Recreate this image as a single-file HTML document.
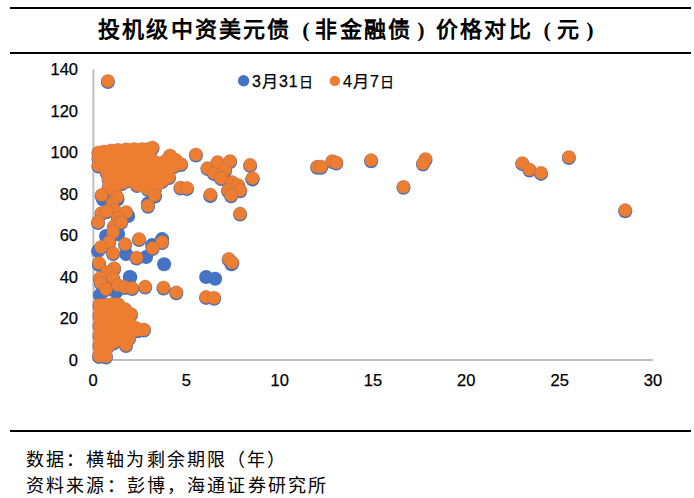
<!DOCTYPE html>
<html lang="zh-CN"><head><meta charset="utf-8">
<style>
html,body{margin:0;padding:0;background:#fff;}
body{width:694px;height:498px;position:relative;overflow:hidden;font-family:"Liberation Sans",sans-serif;}
.rule{position:absolute;left:10px;width:681px;height:2px;background:#000;}
.title{position:absolute;left:97.1px;top:14.5px;white-space:nowrap;font-family:"Liberation Serif",serif;font-weight:bold;font-size:22px;line-height:30px;color:#000;}
.title span{display:inline-block;width:24.15px;text-align:center;}
.title span.b{font-size:22px;position:relative;}
.title span.l{left:3.5px;}
.title span.r{left:-2px;}
.foot{position:absolute;left:25px;font-family:"Liberation Serif",serif;font-size:18px;line-height:24px;color:#000;white-space:nowrap;}
svg{position:absolute;left:0;top:0;}
</style></head><body>
<div class="rule" style="top:7px"></div>
<div class="title"><span>投</span><span>机</span><span>级</span><span>中</span><span>资</span><span>美</span><span>元</span><span>债</span><span class="b l">(</span><span>非</span><span>金</span><span>融</span><span>债</span><span class="b r">)</span><span>价</span><span>格</span><span>对</span><span>比</span><span class="b l">(</span><span>元</span><span class="b r">)</span></div>
<div class="rule" style="top:52px"></div>
<svg width="694" height="430" viewBox="0 0 694 430">
<g style="font-family:'Liberation Sans',sans-serif" font-size="16.5" fill="#000" stroke="#000" stroke-width="0.25"><text x="78" y="365.5" text-anchor="end">0</text><text x="78" y="324.0" text-anchor="end">20</text><text x="78" y="282.5" text-anchor="end">40</text><text x="78" y="241.0" text-anchor="end">60</text><text x="78" y="199.5" text-anchor="end">80</text><text x="78" y="158.0" text-anchor="end">100</text><text x="78" y="116.5" text-anchor="end">120</text><text x="78" y="75.0" text-anchor="end">140</text><text x="93.0" y="386" text-anchor="middle">0</text><text x="186.3" y="386" text-anchor="middle">5</text><text x="279.7" y="386" text-anchor="middle">10</text><text x="373.0" y="386" text-anchor="middle">15</text><text x="466.3" y="386" text-anchor="middle">20</text><text x="559.7" y="386" text-anchor="middle">25</text><text x="653.0" y="386" text-anchor="middle">30</text></g>
<rect x="92.4" y="69.5" width="2" height="291" fill="#BFBFBF"/>
<rect x="93" y="359" width="560" height="2" fill="#BFBFBF"/>
<g><circle cx="107.9" cy="82.0" r="7.0" fill="#4472C4"/>
<circle cx="180.5" cy="188.5" r="7.0" fill="#4472C4"/>
<circle cx="187.0" cy="189.0" r="7.0" fill="#4472C4"/>
<circle cx="101.6" cy="196.0" r="7.0" fill="#4472C4"/>
<circle cx="117.1" cy="198.0" r="7.0" fill="#4472C4"/>
<circle cx="112.5" cy="204.0" r="7.0" fill="#4472C4"/>
<circle cx="114.5" cy="211.0" r="7.0" fill="#4472C4"/>
<circle cx="101.5" cy="214.0" r="7.0" fill="#4472C4"/>
<circle cx="107.1" cy="212.0" r="7.0" fill="#4472C4"/>
<circle cx="126.2" cy="213.0" r="7.0" fill="#4472C4"/>
<circle cx="98.0" cy="223.0" r="7.0" fill="#4472C4"/>
<circle cx="118.1" cy="219.1" r="7.0" fill="#4472C4"/>
<circle cx="114.1" cy="227.1" r="7.0" fill="#4472C4"/>
<circle cx="121.1" cy="223.1" r="7.0" fill="#4472C4"/>
<circle cx="148.0" cy="206.7" r="7.0" fill="#4472C4"/>
<circle cx="154.6" cy="196.1" r="7.0" fill="#4472C4"/>
<circle cx="113.1" cy="233.0" r="7.0" fill="#4472C4"/>
<circle cx="109.1" cy="243.0" r="7.0" fill="#4472C4"/>
<circle cx="101.0" cy="248.0" r="7.0" fill="#4472C4"/>
<circle cx="125.1" cy="245.0" r="7.0" fill="#4472C4"/>
<circle cx="113.1" cy="254.1" r="7.0" fill="#4472C4"/>
<circle cx="139.0" cy="240.0" r="7.0" fill="#4472C4"/>
<circle cx="136.6" cy="258.6" r="7.0" fill="#4472C4"/>
<circle cx="99.0" cy="264.1" r="7.0" fill="#4472C4"/>
<circle cx="114.1" cy="269.2" r="7.0" fill="#4472C4"/>
<circle cx="107.1" cy="273.2" r="7.0" fill="#4472C4"/>
<circle cx="100.0" cy="279.2" r="7.0" fill="#4472C4"/>
<circle cx="113.1" cy="279.2" r="7.0" fill="#4472C4"/>
<circle cx="162.1" cy="243.1" r="7.0" fill="#4472C4"/>
<circle cx="152.6" cy="249.1" r="7.0" fill="#4472C4"/>
<circle cx="101.0" cy="284.0" r="7.0" fill="#4472C4"/>
<circle cx="106.1" cy="290.1" r="7.0" fill="#4472C4"/>
<circle cx="118.1" cy="286.1" r="7.0" fill="#4472C4"/>
<circle cx="125.0" cy="288.0" r="7.0" fill="#4472C4"/>
<circle cx="132.2" cy="289.1" r="7.0" fill="#4472C4"/>
<circle cx="145.2" cy="287.6" r="7.0" fill="#4472C4"/>
<circle cx="163.5" cy="288.5" r="7.0" fill="#4472C4"/>
<circle cx="176.3" cy="293.3" r="7.0" fill="#4472C4"/>
<circle cx="195.9" cy="155.5" r="7.0" fill="#4472C4"/>
<circle cx="250.1" cy="165.9" r="7.0" fill="#4472C4"/>
<circle cx="252.5" cy="179.2" r="7.0" fill="#4472C4"/>
<circle cx="210.4" cy="195.6" r="7.0" fill="#4472C4"/>
<circle cx="240.1" cy="214.6" r="7.0" fill="#4472C4"/>
<circle cx="207.5" cy="169.1" r="7.0" fill="#4472C4"/>
<circle cx="214.0" cy="174.0" r="7.0" fill="#4472C4"/>
<circle cx="217.6" cy="163.0" r="7.0" fill="#4472C4"/>
<circle cx="230.1" cy="162.0" r="7.0" fill="#4472C4"/>
<circle cx="225.1" cy="171.1" r="7.0" fill="#4472C4"/>
<circle cx="221.1" cy="179.1" r="7.0" fill="#4472C4"/>
<circle cx="232.1" cy="183.1" r="7.0" fill="#4472C4"/>
<circle cx="238.2" cy="186.1" r="7.0" fill="#4472C4"/>
<circle cx="240.2" cy="191.2" r="7.0" fill="#4472C4"/>
<circle cx="228.1" cy="191.2" r="7.0" fill="#4472C4"/>
<circle cx="231.1" cy="196.2" r="7.0" fill="#4472C4"/>
<circle cx="317.2" cy="167.7" r="7.0" fill="#4472C4"/>
<circle cx="321.2" cy="167.7" r="7.0" fill="#4472C4"/>
<circle cx="332.3" cy="162.0" r="7.0" fill="#4472C4"/>
<circle cx="336.3" cy="163.5" r="7.0" fill="#4472C4"/>
<circle cx="371.1" cy="161.2" r="7.0" fill="#4472C4"/>
<circle cx="403.5" cy="187.8" r="7.0" fill="#4472C4"/>
<circle cx="425.5" cy="160.0" r="7.0" fill="#4472C4"/>
<circle cx="423.0" cy="164.5" r="7.0" fill="#4472C4"/>
<circle cx="568.9" cy="158.0" r="7.0" fill="#4472C4"/>
<circle cx="522.3" cy="164.1" r="7.0" fill="#4472C4"/>
<circle cx="529.5" cy="170.5" r="7.0" fill="#4472C4"/>
<circle cx="541.0" cy="173.9" r="7.0" fill="#4472C4"/>
<circle cx="625.2" cy="211.2" r="7.0" fill="#4472C4"/>
<circle cx="206.1" cy="297.9" r="7.0" fill="#4472C4"/>
<circle cx="214.2" cy="298.8" r="7.0" fill="#4472C4"/>
<circle cx="228.7" cy="259.9" r="7.0" fill="#4472C4"/>
<circle cx="232.3" cy="263.5" r="7.0" fill="#4472C4"/>
<circle cx="98.5" cy="153.5" r="7.0" fill="#4472C4"/>
<circle cx="104.0" cy="152.5" r="7.0" fill="#4472C4"/>
<circle cx="111.0" cy="151.5" r="7.0" fill="#4472C4"/>
<circle cx="118.0" cy="150.8" r="7.0" fill="#4472C4"/>
<circle cx="126.0" cy="150.3" r="7.0" fill="#4472C4"/>
<circle cx="134.0" cy="150.0" r="7.0" fill="#4472C4"/>
<circle cx="142.0" cy="150.0" r="7.0" fill="#4472C4"/>
<circle cx="148.0" cy="150.0" r="7.0" fill="#4472C4"/>
<circle cx="152.5" cy="148.5" r="7.0" fill="#4472C4"/>
<circle cx="149.5" cy="154.8" r="7.0" fill="#4472C4"/>
<circle cx="146.5" cy="161.0" r="7.0" fill="#4472C4"/>
<circle cx="154.0" cy="162.5" r="7.0" fill="#4472C4"/>
<circle cx="161.5" cy="164.0" r="7.0" fill="#4472C4"/>
<circle cx="170.1" cy="156.5" r="7.0" fill="#4472C4"/>
<circle cx="175.6" cy="160.8" r="7.0" fill="#4472C4"/>
<circle cx="181.0" cy="165.0" r="7.0" fill="#4472C4"/>
<circle cx="174.0" cy="167.0" r="7.0" fill="#4472C4"/>
<circle cx="167.0" cy="169.0" r="7.0" fill="#4472C4"/>
<circle cx="169.0" cy="178.0" r="7.0" fill="#4472C4"/>
<circle cx="162.0" cy="182.0" r="7.0" fill="#4472C4"/>
<circle cx="155.0" cy="189.0" r="7.0" fill="#4472C4"/>
<circle cx="148.0" cy="190.0" r="7.0" fill="#4472C4"/>
<circle cx="137.0" cy="186.0" r="7.0" fill="#4472C4"/>
<circle cx="129.0" cy="181.0" r="7.0" fill="#4472C4"/>
<circle cx="122.0" cy="184.0" r="7.0" fill="#4472C4"/>
<circle cx="115.0" cy="187.0" r="7.0" fill="#4472C4"/>
<circle cx="115.0" cy="194.0" r="7.0" fill="#4472C4"/>
<circle cx="108.6" cy="188.0" r="7.0" fill="#4472C4"/>
<circle cx="108.6" cy="180.0" r="7.0" fill="#4472C4"/>
<circle cx="106.8" cy="173.2" r="7.0" fill="#4472C4"/>
<circle cx="105.0" cy="166.5" r="7.0" fill="#4472C4"/>
<circle cx="98.5" cy="166.5" r="7.0" fill="#4472C4"/>
<circle cx="98.5" cy="159.0" r="7.0" fill="#4472C4"/>
<circle cx="99.5" cy="306.0" r="7.0" fill="#4472C4"/>
<circle cx="106.0" cy="305.5" r="7.0" fill="#4472C4"/>
<circle cx="112.0" cy="305.0" r="7.0" fill="#4472C4"/>
<circle cx="118.0" cy="305.0" r="7.0" fill="#4472C4"/>
<circle cx="125.0" cy="310.0" r="7.0" fill="#4472C4"/>
<circle cx="131.0" cy="315.0" r="7.0" fill="#4472C4"/>
<circle cx="128.0" cy="322.0" r="7.0" fill="#4472C4"/>
<circle cx="136.0" cy="329.0" r="7.0" fill="#4472C4"/>
<circle cx="144.0" cy="330.5" r="7.0" fill="#4472C4"/>
<circle cx="138.0" cy="331.2" r="7.0" fill="#4472C4"/>
<circle cx="132.0" cy="332.0" r="7.0" fill="#4472C4"/>
<circle cx="129.0" cy="339.0" r="7.0" fill="#4472C4"/>
<circle cx="126.0" cy="346.0" r="7.0" fill="#4472C4"/>
<circle cx="120.0" cy="339.0" r="7.0" fill="#4472C4"/>
<circle cx="113.5" cy="343.5" r="7.0" fill="#4472C4"/>
<circle cx="107.0" cy="348.0" r="7.0" fill="#4472C4"/>
<circle cx="106.0" cy="357.5" r="7.0" fill="#4472C4"/>
<circle cx="99.0" cy="357.0" r="7.0" fill="#4472C4"/>
<circle cx="99.5" cy="346.0" r="7.0" fill="#4472C4"/>
<circle cx="99.5" cy="336.0" r="7.0" fill="#4472C4"/>
<circle cx="99.5" cy="326.0" r="7.0" fill="#4472C4"/>
<circle cx="99.5" cy="316.0" r="7.0" fill="#4472C4"/>
<circle cx="103.0" cy="199.5" r="7" fill="#4472C4"/>
<circle cx="117.5" cy="199.5" r="7" fill="#4472C4"/>
<circle cx="128.2" cy="216.0" r="7" fill="#4472C4"/>
<circle cx="148.0" cy="203.5" r="7" fill="#4472C4"/>
<circle cx="155.0" cy="196.5" r="7" fill="#4472C4"/>
<circle cx="117.1" cy="234.2" r="7" fill="#4472C4"/>
<circle cx="106.0" cy="236.0" r="7" fill="#4472C4"/>
<circle cx="118.1" cy="234.0" r="7" fill="#4472C4"/>
<circle cx="126.2" cy="254.1" r="7" fill="#4472C4"/>
<circle cx="98.0" cy="251.0" r="7" fill="#4472C4"/>
<circle cx="99.0" cy="265.0" r="7" fill="#4472C4"/>
<circle cx="130.2" cy="277.2" r="7" fill="#4472C4"/>
<circle cx="162.1" cy="239.1" r="7" fill="#4472C4"/>
<circle cx="152.1" cy="245.1" r="7" fill="#4472C4"/>
<circle cx="146.1" cy="257.1" r="7" fill="#4472C4"/>
<circle cx="164.1" cy="264.2" r="7" fill="#4472C4"/>
<circle cx="100.0" cy="295.1" r="7" fill="#4472C4"/>
<circle cx="116.1" cy="292.1" r="7" fill="#4472C4"/>
<circle cx="129.7" cy="277.0" r="7" fill="#4472C4"/>
<circle cx="252.5" cy="179.4" r="7" fill="#4472C4"/>
<circle cx="210.4" cy="196.0" r="7" fill="#4472C4"/>
<circle cx="206.1" cy="277.0" r="7" fill="#4472C4"/>
<circle cx="215.2" cy="278.8" r="7" fill="#4472C4"/>
<circle cx="231.4" cy="264.3" r="7" fill="#4472C4"/></g>
<g><circle cx="98.5" cy="152.5" r="6.6" fill="#ED7D31" stroke="#8C6466" stroke-opacity="0.4" stroke-width="0.8"/>
<circle cx="104.0" cy="151.5" r="6.6" fill="#ED7D31" stroke="#8C6466" stroke-opacity="0.4" stroke-width="0.8"/>
<circle cx="111.0" cy="150.5" r="6.6" fill="#ED7D31" stroke="#8C6466" stroke-opacity="0.4" stroke-width="0.8"/>
<circle cx="118.0" cy="149.8" r="6.6" fill="#ED7D31" stroke="#8C6466" stroke-opacity="0.4" stroke-width="0.8"/>
<circle cx="126.0" cy="149.3" r="6.6" fill="#ED7D31" stroke="#8C6466" stroke-opacity="0.4" stroke-width="0.8"/>
<circle cx="134.0" cy="149.0" r="6.6" fill="#ED7D31" stroke="#8C6466" stroke-opacity="0.4" stroke-width="0.8"/>
<circle cx="142.0" cy="149.0" r="6.6" fill="#ED7D31" stroke="#8C6466" stroke-opacity="0.4" stroke-width="0.8"/>
<circle cx="148.0" cy="149.0" r="6.6" fill="#ED7D31" stroke="#8C6466" stroke-opacity="0.4" stroke-width="0.8"/>
<circle cx="152.5" cy="147.5" r="6.6" fill="#ED7D31" stroke="#8C6466" stroke-opacity="0.4" stroke-width="0.8"/>
<circle cx="149.5" cy="153.8" r="6.6" fill="#ED7D31" stroke="#8C6466" stroke-opacity="0.4" stroke-width="0.8"/>
<circle cx="146.5" cy="160.0" r="6.6" fill="#ED7D31" stroke="#8C6466" stroke-opacity="0.4" stroke-width="0.8"/>
<circle cx="154.0" cy="161.5" r="6.6" fill="#ED7D31" stroke="#8C6466" stroke-opacity="0.4" stroke-width="0.8"/>
<circle cx="161.5" cy="163.0" r="6.6" fill="#ED7D31" stroke="#8C6466" stroke-opacity="0.4" stroke-width="0.8"/>
<circle cx="170.1" cy="155.5" r="6.6" fill="#ED7D31" stroke="#8C6466" stroke-opacity="0.4" stroke-width="0.8"/>
<circle cx="175.6" cy="159.8" r="6.6" fill="#ED7D31" stroke="#8C6466" stroke-opacity="0.4" stroke-width="0.8"/>
<circle cx="181.0" cy="164.0" r="6.6" fill="#ED7D31" stroke="#8C6466" stroke-opacity="0.4" stroke-width="0.8"/>
<circle cx="174.0" cy="166.0" r="6.6" fill="#ED7D31" stroke="#8C6466" stroke-opacity="0.4" stroke-width="0.8"/>
<circle cx="167.0" cy="168.0" r="6.6" fill="#ED7D31" stroke="#8C6466" stroke-opacity="0.4" stroke-width="0.8"/>
<circle cx="169.0" cy="177.0" r="6.6" fill="#ED7D31" stroke="#8C6466" stroke-opacity="0.4" stroke-width="0.8"/>
<circle cx="162.0" cy="181.0" r="6.6" fill="#ED7D31" stroke="#8C6466" stroke-opacity="0.4" stroke-width="0.8"/>
<circle cx="155.0" cy="188.0" r="6.6" fill="#ED7D31" stroke="#8C6466" stroke-opacity="0.4" stroke-width="0.8"/>
<circle cx="148.0" cy="189.0" r="6.6" fill="#ED7D31" stroke="#8C6466" stroke-opacity="0.4" stroke-width="0.8"/>
<circle cx="137.0" cy="185.0" r="6.6" fill="#ED7D31" stroke="#8C6466" stroke-opacity="0.4" stroke-width="0.8"/>
<circle cx="129.0" cy="180.0" r="6.6" fill="#ED7D31" stroke="#8C6466" stroke-opacity="0.4" stroke-width="0.8"/>
<circle cx="122.0" cy="183.0" r="6.6" fill="#ED7D31" stroke="#8C6466" stroke-opacity="0.4" stroke-width="0.8"/>
<circle cx="115.0" cy="186.0" r="6.6" fill="#ED7D31" stroke="#8C6466" stroke-opacity="0.4" stroke-width="0.8"/>
<circle cx="115.0" cy="193.0" r="6.6" fill="#ED7D31" stroke="#8C6466" stroke-opacity="0.4" stroke-width="0.8"/>
<circle cx="108.6" cy="187.0" r="6.6" fill="#ED7D31" stroke="#8C6466" stroke-opacity="0.4" stroke-width="0.8"/>
<circle cx="108.6" cy="179.0" r="6.6" fill="#ED7D31" stroke="#8C6466" stroke-opacity="0.4" stroke-width="0.8"/>
<circle cx="106.8" cy="172.2" r="6.6" fill="#ED7D31" stroke="#8C6466" stroke-opacity="0.4" stroke-width="0.8"/>
<circle cx="105.0" cy="165.5" r="6.6" fill="#ED7D31" stroke="#8C6466" stroke-opacity="0.4" stroke-width="0.8"/>
<circle cx="98.5" cy="165.5" r="6.6" fill="#ED7D31" stroke="#8C6466" stroke-opacity="0.4" stroke-width="0.8"/>
<circle cx="98.5" cy="158.0" r="6.6" fill="#ED7D31" stroke="#8C6466" stroke-opacity="0.4" stroke-width="0.8"/>
<circle cx="99.5" cy="305.0" r="6.6" fill="#ED7D31" stroke="#8C6466" stroke-opacity="0.4" stroke-width="0.8"/>
<circle cx="106.0" cy="304.5" r="6.6" fill="#ED7D31" stroke="#8C6466" stroke-opacity="0.4" stroke-width="0.8"/>
<circle cx="112.0" cy="304.0" r="6.6" fill="#ED7D31" stroke="#8C6466" stroke-opacity="0.4" stroke-width="0.8"/>
<circle cx="118.0" cy="304.0" r="6.6" fill="#ED7D31" stroke="#8C6466" stroke-opacity="0.4" stroke-width="0.8"/>
<circle cx="125.0" cy="309.0" r="6.6" fill="#ED7D31" stroke="#8C6466" stroke-opacity="0.4" stroke-width="0.8"/>
<circle cx="131.0" cy="314.0" r="6.6" fill="#ED7D31" stroke="#8C6466" stroke-opacity="0.4" stroke-width="0.8"/>
<circle cx="128.0" cy="321.0" r="6.6" fill="#ED7D31" stroke="#8C6466" stroke-opacity="0.4" stroke-width="0.8"/>
<circle cx="136.0" cy="328.0" r="6.6" fill="#ED7D31" stroke="#8C6466" stroke-opacity="0.4" stroke-width="0.8"/>
<circle cx="144.0" cy="329.5" r="6.6" fill="#ED7D31" stroke="#8C6466" stroke-opacity="0.4" stroke-width="0.8"/>
<circle cx="138.0" cy="330.2" r="6.6" fill="#ED7D31" stroke="#8C6466" stroke-opacity="0.4" stroke-width="0.8"/>
<circle cx="132.0" cy="331.0" r="6.6" fill="#ED7D31" stroke="#8C6466" stroke-opacity="0.4" stroke-width="0.8"/>
<circle cx="129.0" cy="338.0" r="6.6" fill="#ED7D31" stroke="#8C6466" stroke-opacity="0.4" stroke-width="0.8"/>
<circle cx="126.0" cy="345.0" r="6.6" fill="#ED7D31" stroke="#8C6466" stroke-opacity="0.4" stroke-width="0.8"/>
<circle cx="120.0" cy="338.0" r="6.6" fill="#ED7D31" stroke="#8C6466" stroke-opacity="0.4" stroke-width="0.8"/>
<circle cx="113.5" cy="342.5" r="6.6" fill="#ED7D31" stroke="#8C6466" stroke-opacity="0.4" stroke-width="0.8"/>
<circle cx="107.0" cy="347.0" r="6.6" fill="#ED7D31" stroke="#8C6466" stroke-opacity="0.4" stroke-width="0.8"/>
<circle cx="106.0" cy="356.5" r="6.6" fill="#ED7D31" stroke="#8C6466" stroke-opacity="0.4" stroke-width="0.8"/>
<circle cx="99.0" cy="356.0" r="6.6" fill="#ED7D31" stroke="#8C6466" stroke-opacity="0.4" stroke-width="0.8"/>
<circle cx="99.5" cy="345.0" r="6.6" fill="#ED7D31" stroke="#8C6466" stroke-opacity="0.4" stroke-width="0.8"/>
<circle cx="99.5" cy="335.0" r="6.6" fill="#ED7D31" stroke="#8C6466" stroke-opacity="0.4" stroke-width="0.8"/>
<circle cx="99.5" cy="325.0" r="6.6" fill="#ED7D31" stroke="#8C6466" stroke-opacity="0.4" stroke-width="0.8"/>
<circle cx="99.5" cy="315.0" r="6.6" fill="#ED7D31" stroke="#8C6466" stroke-opacity="0.4" stroke-width="0.8"/>
<polygon points="98.5,152.5 104.0,151.5 111.0,150.5 118.0,149.8 126.0,149.3 134.0,149.0 142.0,149.0 148.0,149.0 152.5,147.5 146.5,160.0 161.5,163.0 170.1,155.5 181.0,164.0 167.0,168.0 169.0,177.0 162.0,181.0 155.0,188.0 148.0,189.0 137.0,185.0 129.0,180.0 115.0,186.0 115.0,193.0 108.6,187.0 108.6,179.0 105.0,165.5 98.5,165.5 98.5,158.0" fill="#ED7D31" stroke="#ED7D31" stroke-width="11" stroke-linejoin="round"/>
<polygon points="99.5,305.0 106.0,304.5 112.0,304.0 118.0,304.0 125.0,309.0 131.0,314.0 128.0,321.0 136.0,328.0 144.0,329.5 132.0,331.0 126.0,345.0 120.0,338.0 107.0,347.0 106.0,356.5 99.0,356.0 99.5,345.0 99.5,325.0" fill="#ED7D31" stroke="#ED7D31" stroke-width="11" stroke-linejoin="round"/>
<circle cx="107.9" cy="81.0" r="6.6" fill="#ED7D31" stroke="#8C6466" stroke-opacity="0.4" stroke-width="0.8"/>
<circle cx="180.5" cy="187.5" r="6.6" fill="#ED7D31" stroke="#8C6466" stroke-opacity="0.4" stroke-width="0.8"/>
<circle cx="187.0" cy="188.0" r="6.6" fill="#ED7D31" stroke="#8C6466" stroke-opacity="0.4" stroke-width="0.8"/>
<circle cx="101.6" cy="195.0" r="6.6" fill="#ED7D31" stroke="#8C6466" stroke-opacity="0.4" stroke-width="0.8"/>
<circle cx="117.1" cy="197.0" r="6.6" fill="#ED7D31" stroke="#8C6466" stroke-opacity="0.4" stroke-width="0.8"/>
<circle cx="112.5" cy="203.0" r="6.6" fill="#ED7D31" stroke="#8C6466" stroke-opacity="0.4" stroke-width="0.8"/>
<circle cx="114.5" cy="210.0" r="6.6" fill="#ED7D31" stroke="#8C6466" stroke-opacity="0.4" stroke-width="0.8"/>
<circle cx="101.5" cy="213.0" r="6.6" fill="#ED7D31" stroke="#8C6466" stroke-opacity="0.4" stroke-width="0.8"/>
<circle cx="107.1" cy="211.0" r="6.6" fill="#ED7D31" stroke="#8C6466" stroke-opacity="0.4" stroke-width="0.8"/>
<circle cx="126.2" cy="212.0" r="6.6" fill="#ED7D31" stroke="#8C6466" stroke-opacity="0.4" stroke-width="0.8"/>
<circle cx="98.0" cy="222.0" r="6.6" fill="#ED7D31" stroke="#8C6466" stroke-opacity="0.4" stroke-width="0.8"/>
<circle cx="118.1" cy="218.1" r="6.6" fill="#ED7D31" stroke="#8C6466" stroke-opacity="0.4" stroke-width="0.8"/>
<circle cx="114.1" cy="226.1" r="6.6" fill="#ED7D31" stroke="#8C6466" stroke-opacity="0.4" stroke-width="0.8"/>
<circle cx="121.1" cy="222.1" r="6.6" fill="#ED7D31" stroke="#8C6466" stroke-opacity="0.4" stroke-width="0.8"/>
<circle cx="148.0" cy="205.7" r="6.6" fill="#ED7D31" stroke="#8C6466" stroke-opacity="0.4" stroke-width="0.8"/>
<circle cx="154.6" cy="195.1" r="6.6" fill="#ED7D31" stroke="#8C6466" stroke-opacity="0.4" stroke-width="0.8"/>
<circle cx="113.1" cy="232.0" r="6.6" fill="#ED7D31" stroke="#8C6466" stroke-opacity="0.4" stroke-width="0.8"/>
<circle cx="109.1" cy="242.0" r="6.6" fill="#ED7D31" stroke="#8C6466" stroke-opacity="0.4" stroke-width="0.8"/>
<circle cx="101.0" cy="247.0" r="6.6" fill="#ED7D31" stroke="#8C6466" stroke-opacity="0.4" stroke-width="0.8"/>
<circle cx="125.1" cy="244.0" r="6.6" fill="#ED7D31" stroke="#8C6466" stroke-opacity="0.4" stroke-width="0.8"/>
<circle cx="113.1" cy="253.1" r="6.6" fill="#ED7D31" stroke="#8C6466" stroke-opacity="0.4" stroke-width="0.8"/>
<circle cx="139.0" cy="239.0" r="6.6" fill="#ED7D31" stroke="#8C6466" stroke-opacity="0.4" stroke-width="0.8"/>
<circle cx="136.6" cy="257.6" r="6.6" fill="#ED7D31" stroke="#8C6466" stroke-opacity="0.4" stroke-width="0.8"/>
<circle cx="99.0" cy="263.1" r="6.6" fill="#ED7D31" stroke="#8C6466" stroke-opacity="0.4" stroke-width="0.8"/>
<circle cx="114.1" cy="268.2" r="6.6" fill="#ED7D31" stroke="#8C6466" stroke-opacity="0.4" stroke-width="0.8"/>
<circle cx="107.1" cy="272.2" r="6.6" fill="#ED7D31" stroke="#8C6466" stroke-opacity="0.4" stroke-width="0.8"/>
<circle cx="100.0" cy="278.2" r="6.6" fill="#ED7D31" stroke="#8C6466" stroke-opacity="0.4" stroke-width="0.8"/>
<circle cx="113.1" cy="278.2" r="6.6" fill="#ED7D31" stroke="#8C6466" stroke-opacity="0.4" stroke-width="0.8"/>
<circle cx="162.1" cy="242.1" r="6.6" fill="#ED7D31" stroke="#8C6466" stroke-opacity="0.4" stroke-width="0.8"/>
<circle cx="152.6" cy="248.1" r="6.6" fill="#ED7D31" stroke="#8C6466" stroke-opacity="0.4" stroke-width="0.8"/>
<circle cx="101.0" cy="283.0" r="6.6" fill="#ED7D31" stroke="#8C6466" stroke-opacity="0.4" stroke-width="0.8"/>
<circle cx="106.1" cy="289.1" r="6.6" fill="#ED7D31" stroke="#8C6466" stroke-opacity="0.4" stroke-width="0.8"/>
<circle cx="118.1" cy="285.1" r="6.6" fill="#ED7D31" stroke="#8C6466" stroke-opacity="0.4" stroke-width="0.8"/>
<circle cx="125.0" cy="287.0" r="6.6" fill="#ED7D31" stroke="#8C6466" stroke-opacity="0.4" stroke-width="0.8"/>
<circle cx="132.2" cy="288.1" r="6.6" fill="#ED7D31" stroke="#8C6466" stroke-opacity="0.4" stroke-width="0.8"/>
<circle cx="145.2" cy="286.6" r="6.6" fill="#ED7D31" stroke="#8C6466" stroke-opacity="0.4" stroke-width="0.8"/>
<circle cx="163.5" cy="287.5" r="6.6" fill="#ED7D31" stroke="#8C6466" stroke-opacity="0.4" stroke-width="0.8"/>
<circle cx="176.3" cy="292.3" r="6.6" fill="#ED7D31" stroke="#8C6466" stroke-opacity="0.4" stroke-width="0.8"/>
<circle cx="195.9" cy="154.5" r="6.6" fill="#ED7D31" stroke="#8C6466" stroke-opacity="0.4" stroke-width="0.8"/>
<circle cx="250.1" cy="164.9" r="6.6" fill="#ED7D31" stroke="#8C6466" stroke-opacity="0.4" stroke-width="0.8"/>
<circle cx="252.5" cy="178.2" r="6.6" fill="#ED7D31" stroke="#8C6466" stroke-opacity="0.4" stroke-width="0.8"/>
<circle cx="210.4" cy="194.6" r="6.6" fill="#ED7D31" stroke="#8C6466" stroke-opacity="0.4" stroke-width="0.8"/>
<circle cx="240.1" cy="213.6" r="6.6" fill="#ED7D31" stroke="#8C6466" stroke-opacity="0.4" stroke-width="0.8"/>
<circle cx="207.5" cy="168.1" r="6.6" fill="#ED7D31" stroke="#8C6466" stroke-opacity="0.4" stroke-width="0.8"/>
<circle cx="214.0" cy="173.0" r="6.6" fill="#ED7D31" stroke="#8C6466" stroke-opacity="0.4" stroke-width="0.8"/>
<circle cx="217.6" cy="162.0" r="6.6" fill="#ED7D31" stroke="#8C6466" stroke-opacity="0.4" stroke-width="0.8"/>
<circle cx="230.1" cy="161.0" r="6.6" fill="#ED7D31" stroke="#8C6466" stroke-opacity="0.4" stroke-width="0.8"/>
<circle cx="225.1" cy="170.1" r="6.6" fill="#ED7D31" stroke="#8C6466" stroke-opacity="0.4" stroke-width="0.8"/>
<circle cx="221.1" cy="178.1" r="6.6" fill="#ED7D31" stroke="#8C6466" stroke-opacity="0.4" stroke-width="0.8"/>
<circle cx="232.1" cy="182.1" r="6.6" fill="#ED7D31" stroke="#8C6466" stroke-opacity="0.4" stroke-width="0.8"/>
<circle cx="238.2" cy="185.1" r="6.6" fill="#ED7D31" stroke="#8C6466" stroke-opacity="0.4" stroke-width="0.8"/>
<circle cx="240.2" cy="190.2" r="6.6" fill="#ED7D31" stroke="#8C6466" stroke-opacity="0.4" stroke-width="0.8"/>
<circle cx="228.1" cy="190.2" r="6.6" fill="#ED7D31" stroke="#8C6466" stroke-opacity="0.4" stroke-width="0.8"/>
<circle cx="231.1" cy="195.2" r="6.6" fill="#ED7D31" stroke="#8C6466" stroke-opacity="0.4" stroke-width="0.8"/>
<circle cx="317.2" cy="166.7" r="6.6" fill="#ED7D31" stroke="#8C6466" stroke-opacity="0.4" stroke-width="0.8"/>
<circle cx="321.2" cy="166.7" r="6.6" fill="#ED7D31" stroke="#8C6466" stroke-opacity="0.4" stroke-width="0.8"/>
<circle cx="332.3" cy="161.0" r="6.6" fill="#ED7D31" stroke="#8C6466" stroke-opacity="0.4" stroke-width="0.8"/>
<circle cx="336.3" cy="162.5" r="6.6" fill="#ED7D31" stroke="#8C6466" stroke-opacity="0.4" stroke-width="0.8"/>
<circle cx="371.1" cy="160.2" r="6.6" fill="#ED7D31" stroke="#8C6466" stroke-opacity="0.4" stroke-width="0.8"/>
<circle cx="403.5" cy="186.8" r="6.6" fill="#ED7D31" stroke="#8C6466" stroke-opacity="0.4" stroke-width="0.8"/>
<circle cx="425.5" cy="159.0" r="6.6" fill="#ED7D31" stroke="#8C6466" stroke-opacity="0.4" stroke-width="0.8"/>
<circle cx="423.0" cy="163.5" r="6.6" fill="#ED7D31" stroke="#8C6466" stroke-opacity="0.4" stroke-width="0.8"/>
<circle cx="568.9" cy="157.0" r="6.6" fill="#ED7D31" stroke="#8C6466" stroke-opacity="0.4" stroke-width="0.8"/>
<circle cx="522.3" cy="163.1" r="6.6" fill="#ED7D31" stroke="#8C6466" stroke-opacity="0.4" stroke-width="0.8"/>
<circle cx="529.5" cy="169.5" r="6.6" fill="#ED7D31" stroke="#8C6466" stroke-opacity="0.4" stroke-width="0.8"/>
<circle cx="541.0" cy="172.9" r="6.6" fill="#ED7D31" stroke="#8C6466" stroke-opacity="0.4" stroke-width="0.8"/>
<circle cx="625.2" cy="210.2" r="6.6" fill="#ED7D31" stroke="#8C6466" stroke-opacity="0.4" stroke-width="0.8"/>
<circle cx="206.1" cy="296.9" r="6.6" fill="#ED7D31" stroke="#8C6466" stroke-opacity="0.4" stroke-width="0.8"/>
<circle cx="214.2" cy="297.8" r="6.6" fill="#ED7D31" stroke="#8C6466" stroke-opacity="0.4" stroke-width="0.8"/>
<circle cx="228.7" cy="258.9" r="6.6" fill="#ED7D31" stroke="#8C6466" stroke-opacity="0.4" stroke-width="0.8"/>
<circle cx="232.3" cy="262.5" r="6.6" fill="#ED7D31" stroke="#8C6466" stroke-opacity="0.4" stroke-width="0.8"/></g>
<circle cx="243.6" cy="80.8" r="5.7" fill="#4472C4"/>
<text x="252" y="87" font-size="16" style="font-family:'Liberation Sans',sans-serif" stroke="#000" stroke-width="0.25" letter-spacing="1">3月31<tspan font-size="14">日</tspan></text>
<circle cx="334.9" cy="80.9" r="5.2" fill="#ED7D31"/>
<text x="343" y="87" font-size="16" style="font-family:'Liberation Sans',sans-serif" stroke="#000" stroke-width="0.25" letter-spacing="1">4月7<tspan font-size="14">日</tspan></text>
</svg>
<div class="rule" style="top:430px"></div>
<div class="foot" style="top:448px;left:26px;letter-spacing:2.1px">数据：横轴为剩余期限（年）</div>
<div class="foot" style="top:474px;left:26px;letter-spacing:2.15px">资料来源：彭博，海通证券研究所</div>
</body></html>
